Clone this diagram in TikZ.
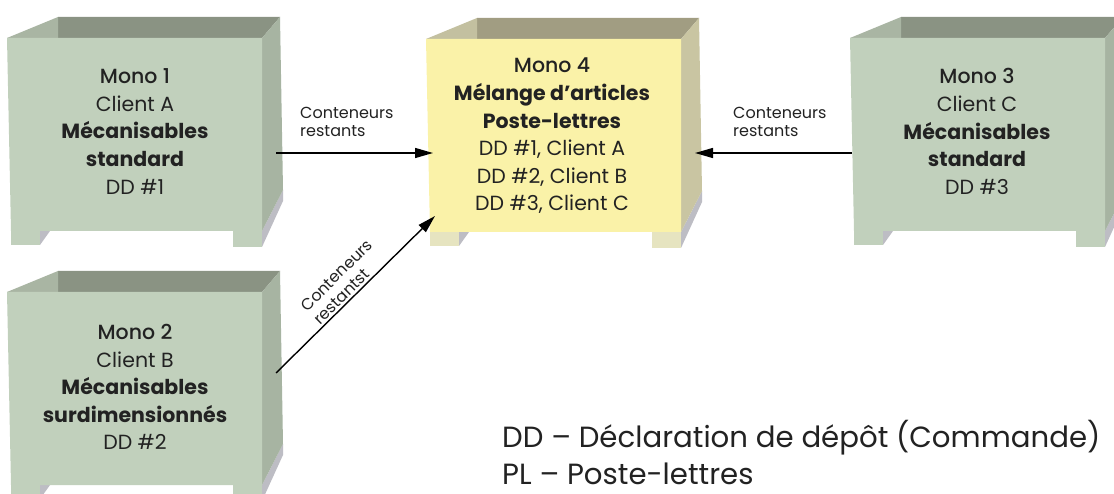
\documentclass[tikz,border=0pt]{standalone}
\usepackage{fontspec}
\setmainfont{Poppins}
\newfontfamily\pmed{Poppins}[UprightFont=* Medium]
\usetikzlibrary{arrows.meta}
\definecolor{gfront}{HTML}{C1D0BC}
\definecolor{gside}{HTML}{A7B4A2}
\definecolor{gback}{HTML}{8A9383}
\definecolor{gleft}{HTML}{A9B5A3}
\definecolor{shad}{HTML}{BDBDC4}
\definecolor{yfront}{HTML}{FAF2A8}
\definecolor{yside}{HTML}{C9C5A2}
\definecolor{yback}{HTML}{A19D82}
\definecolor{yleft}{HTML}{C3C0A0}
\definecolor{yleg}{HTML}{E6E4C0}
\definecolor{ink}{HTML}{222222}
\newcommand\drawcrate[7]{%
\begin{scope}[shift={(#1,#2)}]
 \fill[#5] (58,17) -- (280,17) -- (262,38) -- (58,38) -- cycle;
 \fill[#6] (7,38) -- (58,17) -- (58,38) -- cycle;
 \fill[shad] (262,231) -- (283,190) -- (283,201) -- (262,247) -- cycle;
 \fill[#4] (262,38) -- (280,17) -- (283,190) -- (262,231) -- cycle;
 \fill[shad] (40,231) -- (50,231) -- (40,245) -- cycle;
 \fill[#7] (11,231) rectangle (40,245);
 \fill[#7] (233,231) rectangle (262,247);
 \fill[#3] (7,38) -- (262,38) -- (262,231) -- (11,231) -- cycle;
\end{scope}}
\begin{document}
\begin{tikzpicture}[x=1pt,y=-1pt,
  boxtxt/.style={align=center, font=\fontsize{20.5}{27.6}\selectfont, text=ink, inner sep=0pt},
  lbl/.style={align=left, font=\fontsize{16}{18.5}\selectfont, text=ink, inner sep=1pt},
  arr/.style={-{Triangle[length=18pt,width=10pt]}, line width=1.4pt, draw=black}]
\useasboundingbox (0,0) rectangle (1114,494);
\fill[white] (0,0) rectangle (1114,494);
\drawcrate{0}{0}{gfront}{gside}{gback}{gleft}{gfront}
\drawcrate{0}{254}{gfront}{gside}{gback}{gleft}{gfront}
\drawcrate{843}{0}{gfront}{gside}{gback}{gleft}{gfront}
\drawcrate{419}{1}{yfront}{yside}{yback}{yleft}{yleg}
\node[boxtxt] (m1) at (135,131.5) {{\pmed Mono 1}\\Client A\\\textbf{Mécanisables}\\\textbf{standard}\\DD \#1};
\node[boxtxt] (m2) at (135,387) {{\pmed Mono 2}\\Client B\\\textbf{Mécanisables}\\\textbf{surdimensionnés}\\DD \#2};
\node[boxtxt] (m3) at (977,131.5) {{\pmed Mono 3}\\Client C\\\textbf{Mécanisables}\\\textbf{standard}\\DD \#3};
\node[boxtxt] (m4) at (552,136) {{\pmed Mono 4}\\\textbf{Mélange d’articles}\\\textbf{Poste-lettres}\\DD \#1, Client A\\DD \#2, Client B\\DD \#3, Client C};
\coordinate (m1e) at (276,153);
\coordinate (m4w) at (433,153);
\coordinate (m4e) at (695,153);
\coordinate (m3w) at (852,153);
\coordinate (m2e) at (276,373);
\coordinate (m4sw) at (435,216);
\draw[arr] (m1e) -- (m4w);
\draw[arr] (m3w) -- (m4e);
\draw[arr] (m2e) -- node[lbl, sloped, above, inner sep=2pt] (l3) {Conteneurs\\restantst} (m4sw);
\node[lbl, anchor=west] (l1) at (299,122) {Conteneurs\\restants};
\node[lbl, anchor=west] (l2) at (732,122) {Conteneurs\\restants};
\node[anchor=west, align=left, font=\fontsize{29.2}{37}\selectfont, text=ink, inner sep=0pt] (leg) at (502,452) {DD – Déclaration de dépôt (Commande)\\PL – Poste-lettres};
\end{tikzpicture}
\end{document}
